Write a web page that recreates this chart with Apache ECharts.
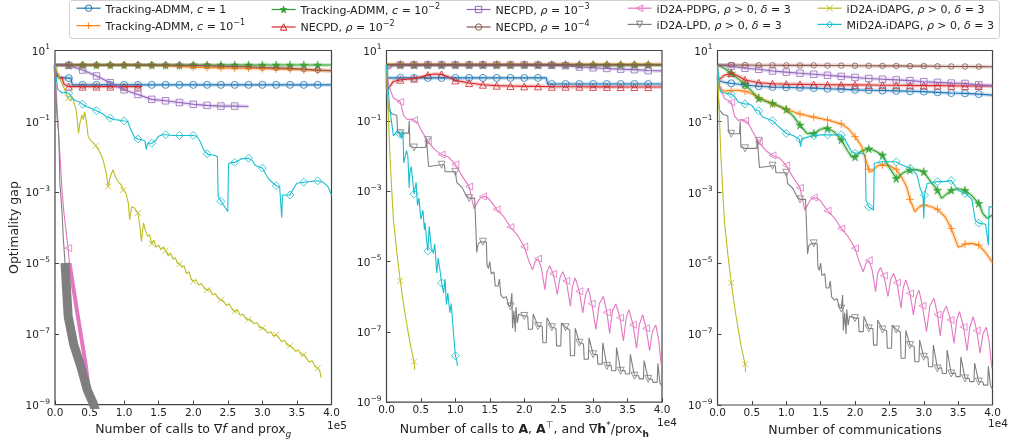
<!DOCTYPE html>
<html>
<head>
<meta charset="utf-8">
<script src="https://cdn.jsdelivr.net/npm/echarts@6/dist/echarts.min.js"></script>
<style>
  html, body { margin: 0; padding: 0; background: #fff; }
  #chart { width: 1012px; height: 444px; }
</style>
</head>
<body>
<div id="chart"></div>
<script>
// values are [x, log10(gap)] ; a third element 1 marks a point that carries a marker
const FONT = 'DejaVu Sans'

const names = [
  'Tracking-ADMM, c = 1', 'Tracking-ADMM, c = 10^-1', 'Tracking-ADMM, c = 10^-2',
  'NECPD, rho = 10^-2', 'NECPD, rho = 10^-3', 'NECPD, rho = 10^-4',
  'iD2A-PDPG', 'iD2A-LPD', 'iD2A-iDAPG', 'MiD2A-iDAPG'
]
const labels = [
  '{n|Tracking-ADMM, }{i|c}{n| = 1}',
  '{n|Tracking-ADMM, }{i|c}{n| = 10}{s|−1}',
  '{n|Tracking-ADMM, }{i|c}{n| = 10}{s|−2}',
  '{n|NECPD, }{i|ρ}{n| = 10}{s|−2}',
  '{n|NECPD, }{i|ρ}{n| = 10}{s|−3}',
  '{n|NECPD, }{i|ρ}{n| = 10}{s|−4}',
  '{n|iD2A-PDPG, }{i|ρ}{n| > 0, }{i|δ}{n| = 3}',
  '{n|iD2A-LPD, }{i|ρ}{n| > 0, }{i|δ}{n| = 3}',
  '{n|iD2A-iDAPG, }{i|ρ}{n| > 0, }{i|δ}{n| = 3}',
  '{n|MiD2A-iDAPG, }{i|ρ}{n| > 0, }{i|δ}{n| = 3}'
]
const colors = ['#1f77b4', '#ff7f0e', '#2ca02c', '#d62728', '#9467bd', '#8c564b', '#e377c2', '#7f7f7f', '#bcbd22', '#17becf']

const yTickExp = [-9, -7, -5, -3, -1, 1]
const xTickStep = 0.5
const offsetText = ['1e5', '1e4', '1e4']

// ---- panel 1 : calls to grad f and prox g
const p1Blue = [[0,0.59],[0.02,0.3],[0.06,0.24],[0.2,0.22,1],[0.23,0.22],[0.25,0.03],[0.4,0.03,1],[0.6,0.03,1],[0.8,0.03,1],[1.0,0.03,1],[1.2,0.03,1],[1.4,0.03,1],[1.6,0.03,1],[1.8,0.03,1],[2.0,0.03,1],[2.2,0.03,1],[2.4,0.03,1],[2.6,0.03,1],[2.8,0.03,1],[3.0,0.03,1],[3.2,0.03,1],[3.4,0.03,1],[3.6,0.03,1],[3.8,0.03,1],[4.0,0.03]]
const p1Orange = [[0,0.59],[0.2,0.59,1],[0.4,0.59,1],[0.6,0.59,1],[0.8,0.59,1],[1.0,0.59,1],[1.2,0.59,1],[1.4,0.58,1],[1.6,0.57,1],[1.8,0.55,1],[2.0,0.53,1],[2.2,0.52,1],[2.4,0.51,1],[2.6,0.5,1],[2.8,0.5,1],[3.0,0.49,1],[3.2,0.48,1],[3.4,0.47,1],[3.6,0.46,1],[3.8,0.44,1],[4.0,0.43]]
const p1Green = [[0,0.59],[0.2,0.59,1],[0.4,0.59,1],[0.6,0.59,1],[0.8,0.59,1],[1.0,0.59,1],[1.2,0.59,1],[1.4,0.59,1],[1.6,0.59,1],[1.8,0.59,1],[2.0,0.59,1],[2.2,0.59,1],[2.4,0.59,1],[2.6,0.59,1],[2.8,0.59,1],[3.0,0.59,1],[3.2,0.59,1],[3.4,0.59,1],[3.6,0.59,1],[3.8,0.59,1],[4.0,0.59]]
const p1Red = [[0,0.59],[0.02,0.25],[0.04,0.35],[0.07,0.2],[0.1,0.25],[0.13,0.05],[0.2,-0.02,1],[0.4,-0.02,1],[0.6,-0.02,1],[0.8,-0.02,1],[1.0,-0.02,1],[1.2,-0.02,1],[1.26,-0.02]]
const p1Purple = [[0,0.59],[0.2,0.58,1],[0.4,0.45,1],[0.6,0.28,1],[0.8,0.09,1],[1.0,-0.11,1],[1.2,-0.24,1],[1.4,-0.38,1],[1.6,-0.42,1],[1.8,-0.47,1],[2.0,-0.52,1],[2.2,-0.55,1],[2.4,-0.57,1],[2.6,-0.57,1],[2.8,-0.58]]
const p1Brown = [[0,0.59],[0.2,0.59,1],[0.4,0.59,1],[0.6,0.59,1],[0.8,0.59,1],[1.0,0.59,1],[1.2,0.59,1],[1.4,0.59,1],[1.6,0.59,1],[1.8,0.585,1],[2.0,0.58,1],[2.2,0.57,1],[2.4,0.56,1],[2.6,0.55,1],[2.8,0.54,1],[3.0,0.52,1],[3.2,0.51,1],[3.4,0.5,1],[3.6,0.47,1],[3.8,0.45,1],[4.0,0.43]]
const p1Pink = [[0,0.59],[0.01,0.2],[0.03,-0.6],[0.05,-1.3],[0.08,-2.2],[0.1,-2.9],[0.13,-3.6],[0.16,-4.1],[0.19,-4.58,1],[0.21,-5.0]]
const p1PinkBand = [[0.21,-5.0],[0.33,-6.5],[0.44,-7.82],[0.52,-9.0],[0.55,-9.4]]
const p1Gray = [[0,0.59],[0.01,-0.1],[0.03,-0.9],[0.05,-1.24],[0.06,-1.8],[0.07,-2.74],[0.1,-3.5],[0.12,-4.3],[0.145,-5.0]]
const p1GrayBand = [[0.145,-5.0],[0.19,-6.5],[0.27,-7.3],[0.37,-7.9],[0.47,-8.6],[0.56,-9.0],[0.62,-9.4]]
const p1Olive = [[0,0.59],[0.03,0.4],[0.06,0.25],[0.1,0.07],[0.13,-0.05],[0.16,-0.2],[0.19,-0.35,1],[0.21,-0.3],[0.23,-0.42],[0.25,-0.3],[0.27,-0.45],[0.3,-0.62],[0.32,-0.9],[0.34,-1.34],[0.36,-1.05],[0.39,-0.82],[0.41,-0.95],[0.43,-0.73],[0.46,-1.1],[0.48,-1.43],[0.52,-1.55],[0.55,-1.6],[0.59,-1.69,1],[0.63,-1.8],[0.68,-2.0],[0.71,-2.2],[0.74,-2.45],[0.77,-2.84,1],[0.8,-2.56],[0.84,-2.37],[0.88,-2.6],[0.92,-2.72],[0.96,-2.8],[0.99,-2.94,1],[1.03,-3.05],[1.06,-3.3],[1.08,-3.78],[1.11,-3.41],[1.15,-3.45],[1.2,-3.59,1],[1.23,-4.0],[1.25,-4.39],[1.28,-3.87],[1.31,-4.1],[1.34,-4.25],[1.37,-4.2],[1.4,-4.46,1],[1.43,-4.35],[1.46,-4.55],[1.5,-4.5],[1.53,-4.62],[1.57,-4.55],[1.6,-4.65,1],[1.64,-4.8],[1.67,-4.72],[1.71,-4.9],[1.74,-4.85],[1.77,-5.0],[1.8,-5.03,1],[1.84,-5.12],[1.87,-5.08],[1.9,-5.3],[1.94,-5.25],[1.97,-5.45],[2.0,-5.52,1],[2.04,-5.48],[2.08,-5.62],[2.12,-5.58],[2.16,-5.72],[2.2,-5.76,1],[2.24,-5.74],[2.28,-5.9],[2.32,-5.86],[2.36,-6.0],[2.4,-6.04,1],[2.44,-6.08],[2.48,-6.2],[2.52,-6.15],[2.56,-6.3],[2.6,-6.37,1],[2.64,-6.33],[2.68,-6.48],[2.72,-6.44],[2.76,-6.58],[2.8,-6.6,1],[2.84,-6.62],[2.88,-6.72],[2.92,-6.68],[2.96,-6.82],[3.0,-6.84,1],[3.04,-6.88],[3.08,-6.98],[3.12,-6.94],[3.16,-7.06],[3.2,-7.03,1],[3.24,-7.12],[3.28,-7.22],[3.32,-7.18],[3.36,-7.32],[3.4,-7.34,1],[3.44,-7.4],[3.48,-7.5],[3.52,-7.45],[3.56,-7.6],[3.6,-7.59,1],[3.64,-7.7],[3.68,-7.8],[3.72,-7.76],[3.76,-7.92],[3.8,-7.97,1],[3.83,-8.05],[3.85,-8.24]]
const p1Cyan = [[0,0.59],[0.02,0.2],[0.04,-0.1],[0.06,-0.15],[0.1,-0.2],[0.15,-0.18],[0.2,-0.21,1],[0.25,-0.35],[0.3,-0.42],[0.35,-0.45],[0.4,-0.52,1],[0.45,-0.58],[0.5,-0.62],[0.55,-0.66],[0.6,-0.7,1],[0.65,-0.75],[0.7,-0.8],[0.75,-0.88],[0.8,-0.91,1],[0.85,-0.95],[0.9,-0.96],[1.0,-0.99,1],[1.05,-1.0],[1.1,-1.25],[1.15,-1.45],[1.2,-1.5,1],[1.25,-1.52],[1.3,-1.55],[1.32,-1.79],[1.34,-1.62],[1.4,-1.62,1],[1.45,-1.55],[1.5,-1.42],[1.55,-1.38],[1.6,-1.38,1],[1.7,-1.4],[1.8,-1.4,1],[1.9,-1.4],[2.0,-1.4,1],[2.05,-1.42],[2.1,-1.57],[2.15,-1.8],[2.2,-1.92,1],[2.25,-1.95],[2.3,-1.95],[2.35,-2.0],[2.36,-3.12],[2.4,-3.26,1],[2.45,-3.4],[2.5,-3.55],[2.51,-2.2],[2.55,-2.16],[2.6,-2.16,1],[2.7,-2.06],[2.8,-2.04,1],[2.85,-2.1],[2.9,-2.25],[3.0,-2.32,1],[3.05,-2.5],[3.1,-2.65],[3.2,-2.82,1],[3.25,-2.85],[3.28,-3.72],[3.29,-3.08],[3.4,-3.08,1],[3.45,-2.9],[3.5,-2.75],[3.6,-2.72,1],[3.7,-2.7],[3.8,-2.68,1],[3.85,-2.7],[3.9,-2.75],[3.95,-2.85],[4.0,-3.08]]

// ---- panel 2 : calls to A, A^T and grad h*/prox h
const p2Blue = [[0,0.59],[0.01,0.22],[0.2,0.22,1],[0.4,0.22,1],[0.6,0.22,1],[0.8,0.22,1],[1.0,0.22,1],[1.2,0.22,1],[1.4,0.22,1],[1.6,0.22,1],[1.8,0.22,1],[2.0,0.22,1],[2.2,0.22,1],[2.32,0.22],[2.34,0.046],[2.4,0.046,1],[2.6,0.046,1],[2.8,0.046,1],[3.0,0.046,1],[3.2,0.046,1],[3.4,0.046,1],[3.6,0.046,1],[3.8,0.046,1],[4.0,0.046]]
const p2Orange = [[0,0.61],[0.2,0.61,1],[0.4,0.61,1],[0.6,0.61,1],[0.8,0.61,1],[1.0,0.61,1],[1.2,0.61,1],[1.4,0.61,1],[1.6,0.61,1],[1.8,0.61,1],[2.0,0.61,1],[2.2,0.61,1],[2.4,0.61,1],[2.6,0.61,1],[2.8,0.61,1],[3.0,0.61,1],[3.2,0.61,1],[3.4,0.61,1],[3.6,0.61,1],[3.8,0.61,1],[4.0,0.61]]
const p2Green = [[0,0.59],[0.2,0.59,1],[0.4,0.59,1],[0.6,0.59,1],[0.8,0.59,1],[1.0,0.59,1],[1.2,0.59,1],[1.4,0.59,1],[1.6,0.59,1],[1.8,0.59,1],[2.0,0.59,1],[2.2,0.59,1],[2.4,0.59,1],[2.6,0.59,1],[2.8,0.59,1],[3.0,0.59,1],[3.2,0.59,1],[3.4,0.59,1],[3.6,0.59,1],[3.8,0.59,1],[4.0,0.59]]
const p2Red = [[0,0.2],[0.02,-0.1],[0.1,0.12],[0.2,0.17,1],[0.4,0.2,1],[0.6,0.3,1],[0.7,0.33],[0.8,0.32,1],[0.9,0.25],[1.0,0.15,1],[1.2,0.074,1],[1.4,0.027,1],[1.6,0.0,1],[1.8,-0.01,1],[2.0,-0.02,1],[2.2,-0.02,1],[2.4,-0.03,1],[2.6,-0.03,1],[2.8,-0.03,1],[3.0,-0.035,1],[3.2,-0.035,1],[3.4,-0.04,1],[3.6,-0.04,1],[3.8,-0.04,1],[4.0,-0.04]]
const p2Purple = [[0,0.5],[0.05,0.5],[0.1,0.59],[0.2,0.59,1],[0.4,0.59,1],[0.6,0.59,1],[0.8,0.59,1],[1.0,0.59,1],[1.2,0.59,1],[1.4,0.59,1],[1.6,0.59,1],[1.8,0.59,1],[2.0,0.59,1],[2.2,0.585,1],[2.4,0.58,1],[2.6,0.57,1],[2.8,0.53,1],[3.0,0.51,1],[3.2,0.49,1],[3.4,0.47,1],[3.6,0.455,1],[3.8,0.43,1],[4.0,0.42]]
const p2Brown = [[0,0.59],[0.2,0.59,1],[0.4,0.59,1],[0.6,0.59,1],[0.8,0.59,1],[1.0,0.59,1],[1.2,0.59,1],[1.4,0.59,1],[1.6,0.59,1],[1.8,0.59,1],[2.0,0.59,1],[2.2,0.59,1],[2.4,0.59,1],[2.6,0.59,1],[2.8,0.59,1],[3.0,0.59,1],[3.2,0.59,1],[3.4,0.59,1],[3.6,0.59,1],[3.8,0.59,1],[4.0,0.59]]
const p2Cyan = [[0,0.59],[0.02,0.0],[0.05,-0.68],[0.1,-1.43],[0.15,-1.3],[0.2,-1.38,1],[0.22,-1.5],[0.24,-1.3],[0.25,-2.2],[0.27,-2.23],[0.29,-1.85],[0.31,-2.0],[0.33,-2.9],[0.34,-2.46],[0.36,-2.3],[0.4,-3.08,1],[0.43,-2.75],[0.45,-3.41],[0.47,-3.2],[0.5,-3.8],[0.53,-3.55],[0.55,-4.1],[0.56,-3.9],[0.58,-4.35],[0.6,-4.7,1],[0.62,-4.0],[0.65,-4.6],[0.68,-4.77],[0.7,-4.5],[0.73,-5.33],[0.75,-4.9],[0.78,-5.3],[0.8,-5.61,1],[0.83,-5.9],[0.85,-5.5],[0.87,-6.23],[0.89,-5.9],[0.92,-6.46],[0.94,-6.2],[0.97,-6.98],[1.0,-7.68,1],[1.02,-7.82],[1.03,-7.97]]

// ---- shared by panels 2 and 3 (one call per communication)
const pinkB = [[0,0.59],[0.03,0.0],[0.1,-0.35],[0.2,-0.46,1],[0.25,-0.85],[0.3,-0.97],[0.35,-0.95],[0.4,-0.98,1],[0.45,-1.05],[0.5,-1.25],[0.6,-1.58,1],[0.7,-1.82],[0.8,-1.96,1],[0.9,-2.03],[1.0,-2.24,1],[1.1,-2.58],[1.2,-2.87,1],[1.27,-3.5],[1.35,-3.22],[1.4,-3.15,1],[1.45,-3.16],[1.5,-3.25],[1.6,-3.52,1],[1.7,-3.72],[1.8,-4.02,1],[1.9,-4.25],[2.0,-4.58,1],[2.06,-4.95],[2.12,-5.24],[2.16,-5.0],[2.2,-4.92,1],[2.25,-5.2],[2.3,-5.8],[2.33,-5.3],[2.37,-5.12],[2.42,-5.35,1],[2.48,-5.94],[2.52,-5.45],[2.56,-5.29],[2.61,-5.55,1],[2.67,-6.27],[2.7,-5.7],[2.74,-5.47],[2.8,-5.85,1],[2.85,-6.46],[2.89,-5.95],[2.93,-5.76],[2.98,-6.2,1],[3.04,-6.93],[3.09,-6.2],[3.15,-5.99],[3.2,-6.45,1],[3.24,-7.05],[3.28,-6.4],[3.33,-6.21],[3.39,-6.6,1],[3.44,-7.26],[3.48,-6.6],[3.52,-6.37],[3.58,-6.8,1],[3.63,-7.47],[3.67,-6.8],[3.72,-6.51],[3.77,-6.9,1],[3.82,-7.54],[3.86,-7.0],[3.91,-6.81],[3.95,-7.2],[3.99,-7.96]]
const grayB = [[0,0.59],[0.01,-0.3],[0.03,-0.68],[0.08,-0.8],[0.15,-0.85],[0.16,-1.29],[0.2,-1.35,1],[0.32,-1.35],[0.33,-1.0],[0.34,-1.73],[0.4,-1.76,1],[0.57,-1.76],[0.58,-1.5],[0.6,-1.55,1],[0.61,-2.3],[0.8,-2.25,1],[0.84,-2.25],[0.85,-2.45],[1.0,-2.45,1],[1.02,-2.75],[1.1,-2.9],[1.15,-3.1],[1.2,-3.2,1],[1.28,-3.2],[1.29,-3.69],[1.31,-4.74],[1.33,-4.5],[1.36,-4.45],[1.4,-4.44,1],[1.45,-4.45],[1.46,-5.1],[1.48,-5.2],[1.5,-5.0],[1.52,-5.35],[1.56,-5.3],[1.58,-5.7],[1.62,-5.7],[1.64,-5.5],[1.66,-5.95],[1.7,-6.04],[1.74,-6.0],[1.77,-6.23],[1.8,-6.28,1],[1.82,-5.9],[1.83,-6.9],[1.85,-6.4],[1.87,-7.0],[1.88,-6.3],[1.9,-6.75],[1.92,-6.5],[2.0,-6.55,1],[2.05,-6.55],[2.06,-6.93],[2.12,-6.93],[2.13,-6.5],[2.2,-6.84,1],[2.26,-6.84],[2.27,-7.31],[2.32,-7.31],[2.33,-6.6],[2.4,-6.87,1],[2.46,-6.9],[2.47,-7.4],[2.53,-7.4],[2.54,-6.75],[2.6,-6.87,1],[2.66,-6.95],[2.67,-7.68],[2.73,-7.68],[2.74,-6.9],[2.8,-7.31,1],[2.86,-7.35],[2.87,-7.78],[2.93,-7.78],[2.94,-7.17],[3.0,-7.64,1],[3.06,-7.65],[3.07,-7.92],[3.13,-7.92],[3.14,-7.31],[3.2,-7.97,1],[3.26,-7.95],[3.27,-8.11],[3.33,-8.11],[3.34,-7.45],[3.4,-8.11,1],[3.46,-8.1],[3.47,-8.2],[3.53,-8.2],[3.54,-7.64],[3.6,-8.25,1],[3.66,-8.25],[3.67,-8.34],[3.73,-8.34],[3.74,-7.82],[3.8,-8.34,1],[3.86,-8.35],[3.87,-8.44],[3.93,-8.44],[3.94,-7.9],[3.97,-8.45],[4.0,-8.56]]
const oliveB = [[0,0.59],[0.01,0.0],[0.03,-1.0],[0.05,-2.0],[0.08,-3.1],[0.1,-3.8],[0.15,-4.75],[0.2,-5.55,1],[0.25,-6.25],[0.3,-6.85],[0.35,-7.4],[0.4,-7.85,1],[0.41,-8.08]]

// ---- panel 3 : communications
const p3Blue = [[0,0.17],[0.1,0.1],[0.2,0.074,1],[0.4,0.027,1],[0.6,-0.01,1],[0.8,-0.03,1],[1.0,-0.04,1],[1.2,-0.05,1],[1.4,-0.06,1],[1.6,-0.08,1],[1.8,-0.09,1],[2.0,-0.11,1],[2.2,-0.12,1],[2.4,-0.13,1],[2.6,-0.14,1],[2.8,-0.15,1],[3.0,-0.16,1],[3.2,-0.18,1],[3.4,-0.2,1],[3.6,-0.21,1],[3.8,-0.23,1],[4.0,-0.26]]
const p3Orange = [[0,0.31],[0.03,0.0],[0.06,-0.1],[0.1,-0.15],[0.2,-0.13,1],[0.3,-0.12],[0.4,-0.15,1],[0.5,-0.22],[0.6,-0.33,1],[0.7,-0.42],[0.8,-0.5,1],[0.9,-0.58],[1.0,-0.66,1],[1.2,-0.79,1],[1.4,-0.88,1],[1.6,-0.96,1],[1.8,-1.07,1],[1.9,-1.2],[2.0,-1.43,1],[2.1,-1.71],[2.17,-2.18],[2.2,-2.35,1],[2.23,-2.42],[2.27,-2.37],[2.32,-2.26],[2.4,-2.23,1],[2.5,-2.25],[2.6,-2.35,1],[2.7,-2.65],[2.75,-2.84],[2.8,-3.2,1],[2.87,-3.55],[2.93,-3.42],[3.0,-3.36,1],[3.1,-3.4],[3.2,-3.48,1],[3.31,-3.69],[3.4,-4.02,1],[3.5,-4.54],[3.55,-4.52],[3.6,-4.46,1],[3.7,-4.44],[3.8,-4.49,1],[3.9,-4.7],[4.0,-4.98]]
const p3Green = [[0,0.59],[0.1,0.5],[0.2,0.36,1],[0.3,0.2],[0.4,0.046,1],[0.5,-0.15],[0.6,-0.35,1],[0.7,-0.43],[0.8,-0.49,1],[0.9,-0.57],[1.0,-0.66,1],[1.1,-0.85],[1.2,-1.1,1],[1.3,-1.34],[1.4,-1.34,1],[1.5,-1.22],[1.6,-1.19,1],[1.7,-1.3],[1.8,-1.52,1],[1.9,-1.85],[1.95,-2.0],[2.0,-2.0,1],[2.08,-1.85],[2.2,-1.77,1],[2.28,-1.82],[2.4,-1.95,1],[2.5,-2.3],[2.6,-2.61,1],[2.7,-2.45],[2.8,-2.37,1],[2.9,-2.36],[3.0,-2.42,1],[3.1,-2.7],[3.2,-2.94,1],[3.26,-3.17],[3.33,-3.05],[3.4,-2.94,1],[3.5,-2.9],[3.6,-2.94,1],[3.7,-3.1],[3.8,-3.31,1],[3.86,-3.6],[3.92,-3.73],[4.0,-3.64]]
const p3Red = [[0,0.15],[0.1,0.3],[0.2,0.36,1],[0.3,0.28],[0.4,0.17,1],[0.6,0.09,1],[0.8,0.06,1],[1.0,0.05,1],[1.2,0.045,1],[1.4,0.04,1],[1.6,0.035,1],[1.8,0.03,1],[2.0,0.03,1],[2.2,0.025,1],[2.4,0.02,1],[2.6,0.02,1],[2.8,0.015,1],[3.0,0.01,1],[3.2,0.01,1],[3.4,0.005,1],[3.6,0.0,1],[3.8,0.0,1],[4.0,0.0]]
const p3Purple = [[0,0.59],[0.2,0.56,1],[0.4,0.5,1],[0.6,0.47,1],[0.8,0.42,1],[1.0,0.39,1],[1.2,0.36,1],[1.4,0.33,1],[1.6,0.3,1],[1.8,0.27,1],[2.0,0.24,1],[2.2,0.21,1],[2.4,0.19,1],[2.6,0.17,1],[2.8,0.15,1],[3.0,0.12,1],[3.2,0.1,1],[3.4,0.08,1],[3.6,0.07,1],[3.8,0.03,1],[4.0,0.01]]
const p3Brown = [[0,0.59],[0.2,0.59,1],[0.4,0.59,1],[0.6,0.585,1],[0.8,0.585,1],[1.0,0.58,1],[1.2,0.58,1],[1.4,0.58,1],[1.6,0.575,1],[1.8,0.575,1],[2.0,0.57,1],[2.2,0.57,1],[2.4,0.565,1],[2.6,0.565,1],[2.8,0.56,1],[3.0,0.56,1],[3.2,0.555,1],[3.4,0.55,1],[3.6,0.55,1],[3.8,0.545,1],[4.0,0.54]]
const p3Cyan = [[0,0.59],[0.02,0.15],[0.04,-0.16],[0.1,-0.2],[0.2,-0.23,1],[0.25,-0.3],[0.3,-0.45],[0.4,-0.51,1],[0.45,-0.5],[0.5,-0.55],[0.55,-0.68],[0.6,-0.7,1],[0.65,-0.87],[0.8,-0.98,1],[0.86,-1.1],[0.95,-1.25],[1.0,-1.34,1],[1.1,-1.4],[1.19,-1.5],[1.2,-1.5,1],[1.21,-1.71],[1.22,-1.5],[1.3,-1.45],[1.4,-1.4,1],[1.5,-1.38],[1.6,-1.38,1],[1.7,-1.38],[1.8,-1.38,1],[1.85,-1.5],[1.95,-1.85],[2.0,-1.9,1],[2.1,-1.9],[2.15,-1.95],[2.16,-3.22],[2.2,-3.41,1],[2.27,-3.5],[2.28,-2.18],[2.4,-2.14,1],[2.5,-2.14],[2.6,-2.14,1],[2.65,-2.2],[2.8,-2.32,1],[2.9,-2.5],[2.95,-2.9],[2.99,-3.08],[3.0,-3.74],[3.01,-3.08,1],[3.05,-2.75],[3.2,-2.7,1],[3.3,-2.7],[3.4,-2.67,1],[3.45,-2.8],[3.5,-2.95],[3.6,-3.03,1],[3.7,-3.2],[3.75,-3.8],[3.8,-3.87,1],[3.9,-3.9],[3.94,-4.49],[3.95,-3.41],[4.0,-3.41]]

const panels = [
  [p1Blue, p1Orange, p1Green, p1Red, p1Purple, p1Brown, p1Pink, p1Gray, p1Olive, p1Cyan],
  [p2Blue, p2Orange, p2Green, p2Red, p2Purple, p2Brown, pinkB, grayB, oliveB, p2Cyan],
  [p3Blue, p3Orange, p3Green, p3Red, p3Purple, p3Brown, pinkB, grayB, oliveB, p3Cyan]
]
// thick envelope of fast oscillations in panel 1
const bands = [
  { g: 0, k: 6, d: p1PinkBand, w: 4 },
  { g: 0, k: 7, d: p1GrayBand, w: 9 }
]

const STAR = 'path://M50,0L61,35L98,35L68,57L79,91L50,70L21,91L32,57L2,35L39,35Z'
const PLUS = 'path://M5,0L5,10M0,5L10,5'
const CROSS = 'path://M0,0L10,10M10,0L0,10'
const TRI_UP = 'path://M5,0L10,10L0,10Z'
const TRI_LEFT = 'path://M0,5L10,0L10,10Z'
const TRI_DOWN = 'path://M0,0L10,0L5,10Z'
const marks = [
  { symbol: 'circle', size: 7, hollow: true },
  { symbol: PLUS, size: 8, hollow: true },
  { symbol: STAR, size: 8.5, hollow: false },
  { symbol: TRI_UP, size: 7, hollow: true },
  { symbol: 'rect', size: 6.5, hollow: true },
  { symbol: 'circle', size: 5.5, hollow: true },
  { symbol: TRI_LEFT, size: 7, hollow: true },
  { symbol: TRI_DOWN, size: 7, hollow: true },
  { symbol: CROSS, size: 6, hollow: true },
  { symbol: 'diamond', size: 8, hollow: true }
]

const toPts = arr => arr.map(p => [p[0], Math.pow(10, p[1])])
const markPts = arr => arr.filter(p => p[2]).map(p => [p[0], Math.pow(10, p[1])])

const gridLeft = [55, 386.5, 717.5]
const gridWidth = [276.5, 275.5, 275]

const series = []
panels.forEach((list, g) => {
  list.forEach((d, k) => {
    const c = colors[k]
    const m = marks[k]
    const iStyle = m.hollow
      ? { color: 'none', borderColor: c, borderWidth: 1 }
      : { color: c, borderColor: c, borderWidth: 0.5 }
    series.push({
      type: 'line', name: names[k], xAxisIndex: g, yAxisIndex: g,
      data: toPts(d), symbol: m.symbol, symbolSize: m.size, showSymbol: false,
      lineStyle: { color: c, width: 1.1 }, itemStyle: iStyle,
      silent: true, animation: false
    })
    // faint spread band under the baseline methods
    if (k < 6) {
      series.push({
        type: 'line', name: names[k], xAxisIndex: g, yAxisIndex: g,
        data: toPts(d), showSymbol: false, symbol: m.symbol,
        lineStyle: { color: c, width: 4, opacity: 0.22 }, itemStyle: iStyle,
        silent: true, animation: false
      })
    }
    bands.filter(b => b.g === g && b.k === k).forEach(b => {
      series.push({
        type: 'line', name: names[k], xAxisIndex: g, yAxisIndex: g,
        data: toPts(b.d), showSymbol: false, symbol: m.symbol,
        lineStyle: { color: c, width: b.w, cap: 'butt' }, itemStyle: iStyle,
        silent: true, animation: false
      })
    })
    const mp = markPts(d)
    if (mp.length) {
      series.push({
        type: 'scatter', name: names[k], xAxisIndex: g, yAxisIndex: g,
        data: mp, symbol: m.symbol, symbolSize: m.size, itemStyle: iStyle,
        silent: true, animation: false
      })
    }
  })
})

const supRich = {
  n: { fontFamily: FONT, fontSize: 10.5, color: '#222', lineHeight: 14, verticalAlign: 'bottom' },
  s: { fontFamily: FONT, fontSize: 7.5, color: '#222', lineHeight: 14, verticalAlign: 'top' }
}
const expText = e => (e < 0 ? '−' + (-e) : '' + e)
const yTickValues = yTickExp.map(e => Math.pow(10, e))

const xNames = [
  '{n|Number of calls to ∇}{i|f}{n| and prox}{sb|g}',
  '{n|Number of calls to }{b|A}{n|, }{b|A}{sp|⊤}{n|, and ∇}{b|h}{sp|*}{n|/prox}{sbb|h}',
  '{n|Number of communications}'
]
const nameRich = {
  n: { fontFamily: FONT, fontSize: 12.5, color: '#222', lineHeight: 18, verticalAlign: 'middle' },
  i: { fontFamily: FONT, fontSize: 12.5, fontStyle: 'italic', color: '#222', lineHeight: 18, verticalAlign: 'middle' },
  b: { fontFamily: FONT, fontSize: 12.5, fontWeight: 'bold', color: '#222', lineHeight: 18, verticalAlign: 'middle' },
  sb: { fontFamily: FONT, fontSize: 9, fontStyle: 'italic', color: '#222', lineHeight: 18, verticalAlign: 'bottom' },
  sbb: { fontFamily: FONT, fontSize: 9, fontWeight: 'bold', color: '#222', lineHeight: 18, verticalAlign: 'bottom' },
  sp: { fontFamily: FONT, fontSize: 9, color: '#222', lineHeight: 18, verticalAlign: 'top' }
}

const legendCols = [[0, 1], [2, 3], [4, 5], [6, 7], [8, 9]]
const legendLeft = [76, 271, 466, 627, 817]
const legendRich = {
  n: { fontFamily: FONT, fontSize: 11, color: '#222', lineHeight: 14, verticalAlign: 'bottom' },
  i: { fontFamily: FONT, fontSize: 11, fontStyle: 'italic', color: '#222', lineHeight: 14, verticalAlign: 'bottom' },
  s: { fontFamily: FONT, fontSize: 8, color: '#222', lineHeight: 14, verticalAlign: 'top' }
}

const chart = echarts.init(document.getElementById('chart'), null, { renderer: 'canvas' })
chart.setOption({
  animation: false,
  backgroundColor: '#fff',
  textStyle: { fontFamily: FONT },
  legend: legendCols.map((col, i) => ({
    orient: 'vertical', left: legendLeft[i], top: 2.5, padding: 0,
    itemGap: 3.5, itemWidth: 24, itemHeight: 8, selectedMode: false,
    data: col.map(k => names[k]),
    formatter: name => labels[names.indexOf(name)],
    textStyle: { fontFamily: FONT, fontSize: 11, color: '#222', rich: legendRich },
    itemStyle: { borderWidth: 1 },
    lineStyle: { width: 1.2, opacity: 1 }
  })),
  graphic: [
    { type: 'rect', left: 69, top: 0, z: -10,
      shape: { width: 930, height: 38, r: 3 },
      style: { fill: '#fff', stroke: '#d0d0d0', lineWidth: 1 } },
    { type: 'text', left: 327, top: 421, style: { text: offsetText[0], font: '10.5px "DejaVu Sans"', fill: '#222' } },
    { type: 'text', left: 657, top: 418, style: { text: offsetText[1], font: '10.5px "DejaVu Sans"', fill: '#222' } },
    { type: 'text', left: 988, top: 419, style: { text: offsetText[2], font: '10.5px "DejaVu Sans"', fill: '#222' } }
  ],
  grid: [0, 1, 2].map(g => ({
    left: gridLeft[g], top: 50.5, width: gridWidth[g], height: 354.5,
    show: true, borderColor: '#444', borderWidth: 1.2, backgroundColor: 'transparent'
  })),
  xAxis: [0, 1, 2].map(g => ({
    type: 'value', gridIndex: g, min: 0, max: 4, interval: xTickStep,
    name: xNames[g], nameLocation: 'middle', nameGap: g === 1 ? 13 : 14,
    nameTextStyle: { rich: nameRich },
    axisLine: { show: false },
    axisTick: { inside: true, length: 4, lineStyle: { color: '#444' } },
    axisLabel: { margin: 3, fontSize: 10.5, color: '#222', fontFamily: FONT, formatter: v => v.toFixed(1) },
    splitLine: { show: false }
  })),
  yAxis: [0, 1, 2].map(g => ({
    type: 'log', logBase: 10, gridIndex: g, min: 1e-9, max: 10,
    name: g === 0 ? 'Optimality gap' : '', nameLocation: 'middle', nameGap: 33,
    nameTextStyle: { fontFamily: FONT, fontSize: 12.5, color: '#222' },
    axisLine: { show: false },
    axisTick: { inside: true, length: 4, lineStyle: { color: '#444' }, customValues: yTickValues },
    axisLabel: {
      margin: 5, customValues: yTickValues, rich: supRich,
      formatter: v => '{n|10}{s|' + expText(Math.round(Math.log10(v))) + '}'
    },
    minorTick: { show: false },
    splitLine: { show: false }
  })),
  series: series
})
</script>
</body>
</html>
